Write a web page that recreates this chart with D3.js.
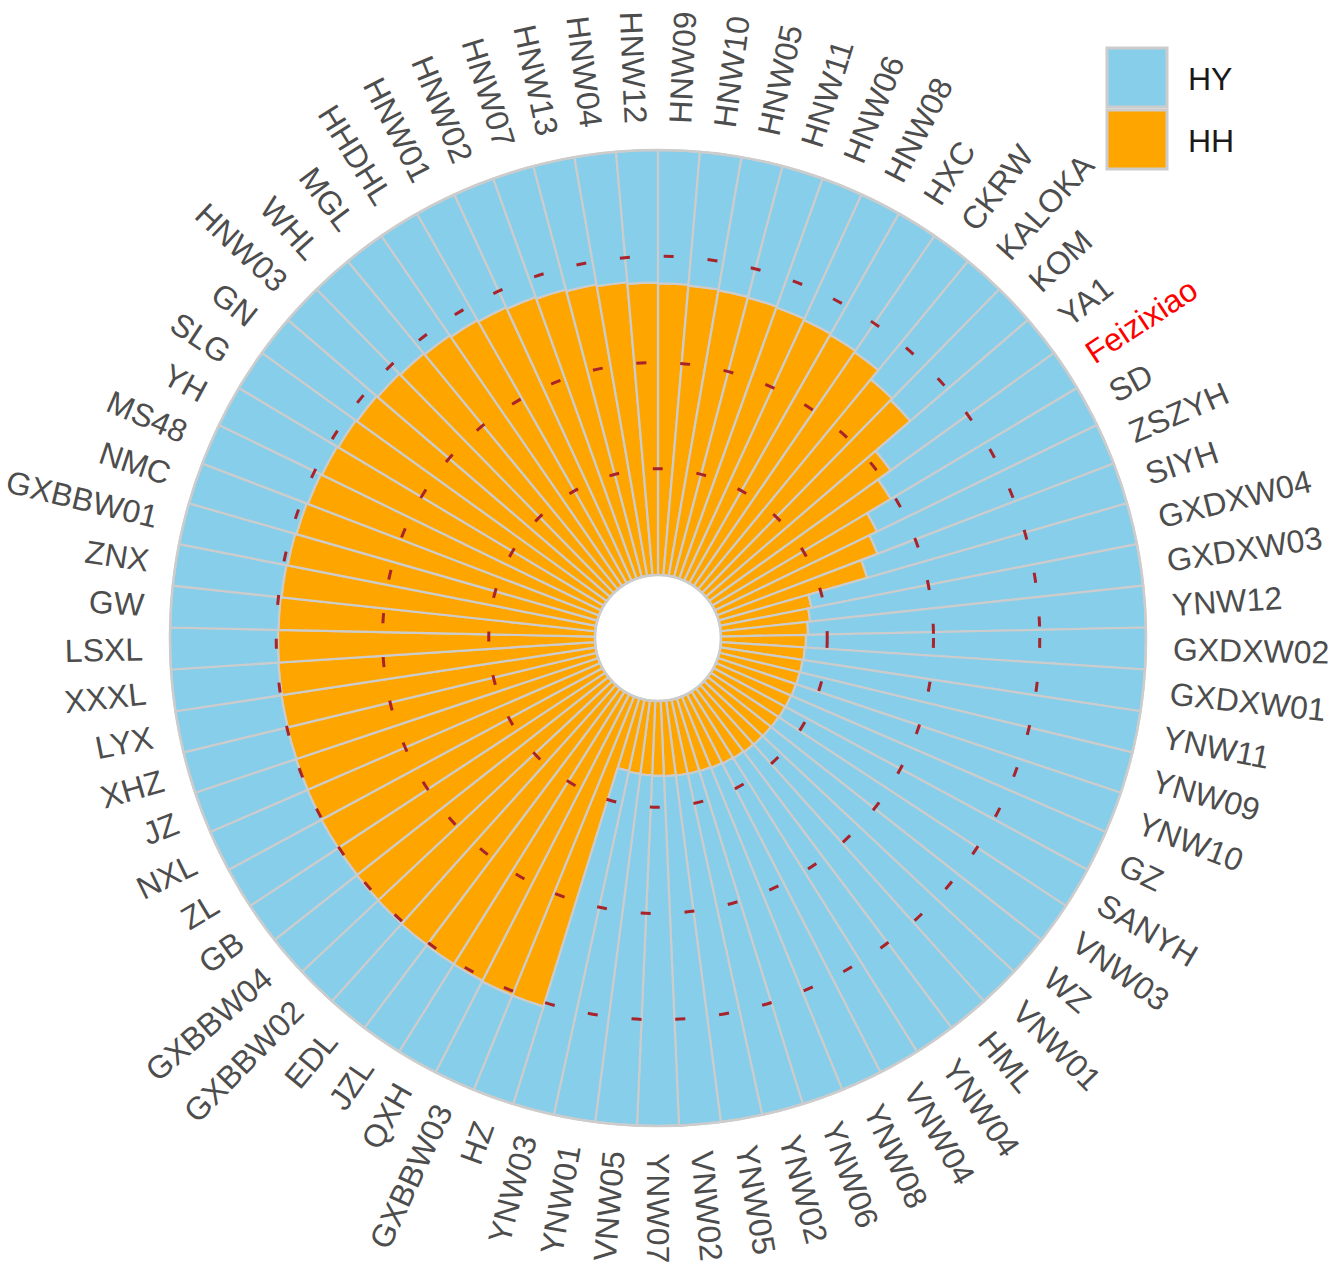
<!DOCTYPE html>
<html>
<head>
<meta charset="utf-8">
<script src="https://cdn.jsdelivr.net/npm/d3@7"></script>
<style>
  body { margin: 0; background: #ffffff; }
  text { font-family: "Liberation Sans", Arial, Helvetica, sans-serif; }
</style>
</head>
<body>
<svg id="chart" width="1333" height="1266"></svg>
<script>
// Accessions, clockwise from 12 o'clock
const categories = [
  "HNW09","HNW10","HNW05","HNW11","HNW06","HNW08","HXC","CKRW","KALOKA","KOM",
  "YA1","Feizixiao","SD","ZSZYH","SIYH","GXDXW04","GXDXW03","YNW12","GXDXW02","GXDXW01",
  "YNW11","YNW09","YNW10","GZ","SANYH","VNW03","WZ","VNW01","HML","YNW04",
  "VNW04","YNW08","YNW06","YNW02","YNW05","VNW02","YNW07","VNW05","YNW01","YNW03",
  "HZ","GXBBW03","QXH","JZL","EDL","GXBBW02","GXBBW04","GB","ZL","NXL",
  "JZ","XHZ","LYX","XXXL","LSXL","GW","ZNX","GXBBW01","NMC","MS48",
  "YH","SLG","GN","HNW03","WHL","MGL","HHDHL","HNW01","HNW02","HNW07",
  "HNW13","HNW04","HNW12"
];

// HH ancestry proportion per accession
const hhShare = [
  0.686,0.684,0.682,0.680,0.678,0.675,0.672,0.668,0.640,0.635,
  0.527,0.490,0.425,0.405,0.364,0.220,0.212,0.205,0.200,0.198,
  0.196,0.195,0.194,0.193,0.192,0.191,0.190,0.189,0.188,0.186,
  0.184,0.182,0.180,0.179,0.178,0.177,0.176,0.175,0.174,0.172,
  0.760,0.760,0.758,0.757,0.756,0.755,0.754,0.753,0.752,0.751,
  0.750,0.749,0.748,0.747,0.746,0.745,0.743,0.740,0.737,0.734,
  0.731,0.728,0.725,0.722,0.719,0.716,0.712,0.708,0.704,0.700,
  0.696,0.692,0.688
];

// HY ancestry proportion per accession
const hyShare = [
  0.314,0.316,0.318,0.320,0.322,0.325,0.328,0.332,0.360,0.365,
  0.473,0.510,0.575,0.595,0.636,0.780,0.788,0.795,0.800,0.802,
  0.804,0.805,0.806,0.807,0.808,0.809,0.810,0.811,0.812,0.814,
  0.816,0.818,0.820,0.821,0.822,0.823,0.824,0.825,0.826,0.828,
  0.240,0.240,0.242,0.243,0.244,0.245,0.246,0.247,0.248,0.249,
  0.250,0.251,0.252,0.253,0.254,0.255,0.257,0.260,0.263,0.266,
  0.269,0.272,0.275,0.278,0.281,0.284,0.288,0.292,0.296,0.300,
  0.304,0.308,0.312
];

const stackKeys = ["HH", "HY"];          // inner to outer
const legendKeys = ["HY", "HH"];         // legend order
const seriesColors = { HY: "#87CEEB", HH: "#FFA500" };
const gridLevels = [0.25, 0.5, 0.75];
const highlighted = ["Feizixiao"];

const cx = 658, cy = 638;
const innerR = 63, outerR = 488, labelR = 515;

const svg = d3.select("#chart");
svg.append("rect").attr("width", 1333).attr("height", 1266).attr("fill", "#ffffff");
const g = svg.append("g").attr("transform", `translate(${cx},${cy})`);

const x = d3.scaleBand().domain(categories).range([0, 2 * Math.PI]).padding(0);
const y = d3.scaleLinear().domain([0, 1]).range([innerR, outerR]);

const rows = categories.map((name, i) => ({ name, HH: hhShare[i], HY: hyShare[i] }));
const stacked = d3.stack().keys(stackKeys)(rows);

const arc = d3.arc()
  .innerRadius(d => y(d[0]))
  .outerRadius(d => y(d[1]))
  .startAngle(d => x(d.data.name))
  .endAngle(d => x(d.data.name) + x.bandwidth());

// stacked radial bars
g.selectAll("g.layer")
  .data(stacked)
  .join("g")
  .attr("class", "layer")
  .attr("fill", d => seriesColors[d.key])
  .selectAll("path")
  .data(d => d)
  .join("path")
  .attr("d", arc)
  .attr("stroke", "#cccccc")
  .attr("stroke-width", 2.2)
  .attr("stroke-linejoin", "round");

// outer and inner rims
g.append("circle").attr("r", y(1)).attr("fill", "none").attr("stroke", "#cccccc").attr("stroke-width", 2.5);
g.append("circle").attr("r", y(0)).attr("fill", "none").attr("stroke", "#cccccc").attr("stroke-width", 2.5);

// dashed reference rings
g.selectAll("circle.grid")
  .data(gridLevels)
  .join("circle")
  .attr("class", "grid")
  .attr("r", d => y(d))
  .attr("fill", "none")
  .attr("stroke", "#a8232a")
  .attr("stroke-width", 3)
  .attr("stroke-dasharray", "10 34");

// radial accession labels
const midDeg = name => (x(name) + x.bandwidth() / 2) * 180 / Math.PI;
g.selectAll("text.label")
  .data(categories)
  .join("text")
  .attr("class", "label")
  .attr("transform", d => {
    const a = midDeg(d);
    const flip = a > 180.01;
    return `rotate(${a - 90}) translate(${labelR},0)` + (flip ? " rotate(180)" : "");
  })
  .attr("text-anchor", d => midDeg(d) > 180.01 ? "end" : "start")
  .attr("dy", "0.35em")
  .attr("font-size", 32)
  .attr("fill", d => highlighted.includes(d) ? "#ff0000" : "#4d4d4d")
  .text(d => d);

// legend
const legend = svg.append("g").attr("transform", "translate(1107,48)");
const item = legend.selectAll("g.item")
  .data(legendKeys)
  .join("g")
  .attr("class", "item")
  .attr("transform", (d, i) => `translate(0,${i * 62})`);
item.append("rect")
  .attr("width", 60).attr("height", 59)
  .attr("fill", d => seriesColors[d])
  .attr("stroke", "#cccccc").attr("stroke-width", 3);
item.append("text")
  .attr("x", 81).attr("y", 42)
  .attr("font-size", 32)
  .attr("fill", "#1a1a1a")
  .text(d => d);
</script>
</body>
</html>
